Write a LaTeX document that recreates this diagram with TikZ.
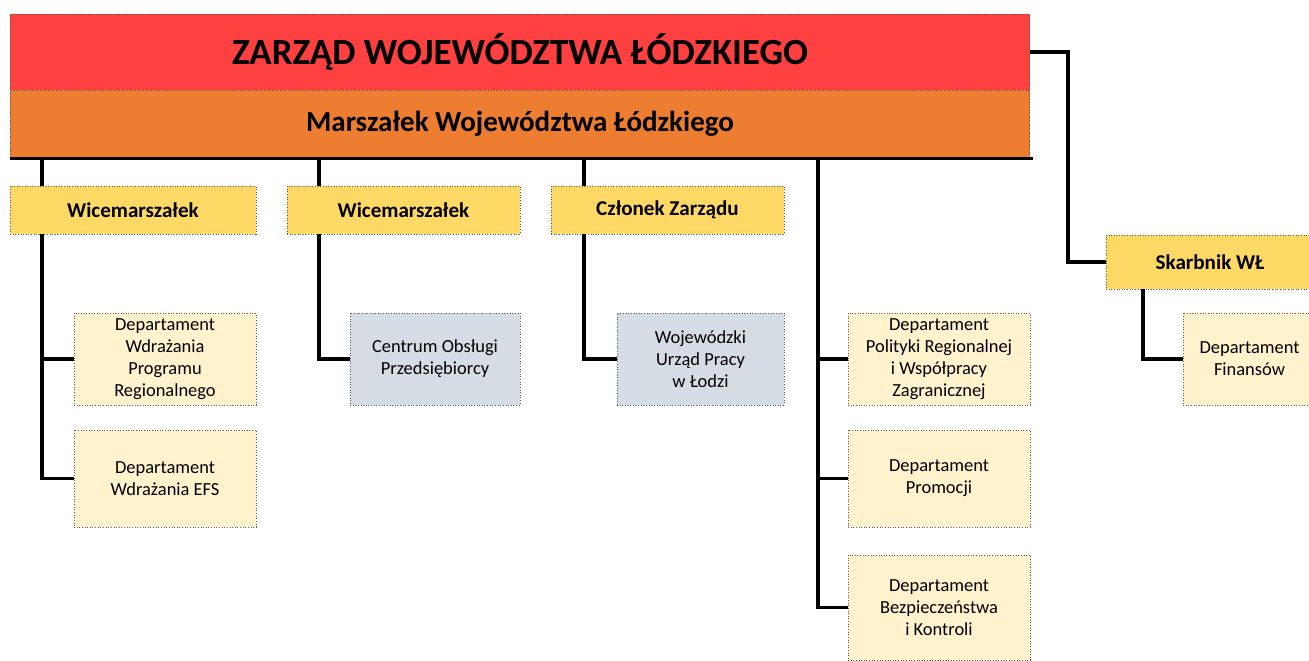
\documentclass[tikz,border=0pt]{standalone}
\usepackage{fontspec}
\setmainfont{Carlito}
\definecolor{zarzadred}{HTML}{FF4040}
\definecolor{marszorange}{HTML}{ED7D31}
\definecolor{wiceyellow}{HTML}{FFD966}
\definecolor{deptcream}{HTML}{FFF2CC}
\definecolor{unitgray}{HTML}{D6DCE4}
\begin{document}
\begin{tikzpicture}[x=0.02cm,y=-0.02cm,
  box/.style={draw=black!65,densely dotted,line width=0.5pt,inner sep=2pt,align=center},
  head/.style={box,minimum width=20.4cm,font=\bfseries},
  wice/.style={box,fill=wiceyellow,minimum height=0.96cm,font=\fontsize{12}{14}\selectfont\bfseries},
  dept/.style={box,fill=deptcream,minimum width=3.64cm,minimum height=1.84cm,font=\fontsize{10.5}{12.6}\selectfont},
  unit/.style={dept,fill=unitgray},
  conn/.style={line width=2.1pt,black}]
\useasboundingbox (0,0) rectangle (1309,661);
\node[head,fill=zarzadred,minimum height=1.52cm,font=\fontsize{21}{25}\selectfont\bfseries] (zarzad) at (520,52) {ZARZĄD WOJEWÓDZTWA ŁÓDZKIEGO};
\node[head,fill=marszorange,minimum height=1.36cm,font=\fontsize{16.5}{20}\selectfont\bfseries] (marszalek) at (520,124) {Marszałek Województwa Łódzkiego};
\node[wice,minimum width=4.92cm] (wice1) at (133,210) {Wicemarszałek};
\node[wice,minimum width=4.66cm] (wice2) at (403.5,210) {Wicemarszałek};
\node[wice,minimum width=4.66cm] (czlonek) at (667.5,210) {Członek Zarządu};
\node[wice,minimum width=4.16cm,minimum height=1.08cm] (skarbnik) at (1210,262) {Skarbnik WŁ};
\node[dept] (dwpr) at (165,359) {Departament\\Wdrażania\\Programu\\Regionalnego};
\node[dept,minimum height=1.94cm] (defs) at (165,478.5) {Departament\\Wdrażania EFS};
\node[unit,minimum width=3.4cm] (cop) at (435,359) {Centrum Obsługi\\Przedsiębiorcy};
\node[unit,minimum width=3.34cm] (wup) at (700.5,359) {Wojewódzki\\Urząd Pracy\\w Łodzi};
\node[dept] (dpr) at (939,359) {Departament\\Polityki Regionalnej\\i Współpracy\\Zagranicznej};
\node[dept,minimum height=1.94cm] (dprom) at (939,478.5) {Departament\\Promocji};
\node[dept,minimum height=2.1cm] (dbik) at (939,607.5) {Departament\\Bezpieczeństwa\\i Kontroli};
\node[dept,minimum width=2.66cm] (dfin) at (1249.5,359) {Departament\\Finansów};
\coordinate (t1) at (42,158);
\coordinate (t2) at (319,158);
\coordinate (t3) at (584,158);
\coordinate (t4) at (818,158);
\coordinate (t5) at (1068,52);
\coordinate (t6) at (1143,289);
\draw[conn] (marszalek.south west) -- ([xshift=0.06cm]marszalek.south east);
\draw[conn] (t1) -- (t1 |- wice1.north);
\draw[conn] (t2) -- (t2 |- wice2.north);
\draw[conn] (t3) -- (t3 |- czlonek.north);
\draw[conn] (t1 |- wice1.south) |- (defs.west);
\draw[conn] (t1 |- dwpr.west) -- (dwpr.west);
\draw[conn] (t2 |- wice2.south) |- (cop.west);
\draw[conn] (t3 |- czlonek.south) |- (wup.west);
\draw[conn] (t4) |- (dbik.west);
\draw[conn] (t4 |- dpr.west) -- (dpr.west);
\draw[conn] (t4 |- dprom.west) -- (dprom.west);
\draw[conn] (zarzad.east) -- (t5) |- (skarbnik.west);
\draw[conn] (t6) |- (dfin.west);
\end{tikzpicture}
\end{document}
